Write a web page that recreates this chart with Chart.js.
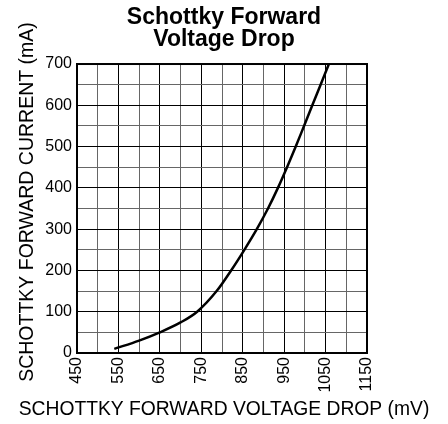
<!DOCTYPE html>
<html>
<head>
<meta charset="utf-8">
<script src="https://cdn.jsdelivr.net/npm/chart.js@4/dist/chart.umd.min.js"></script>
<style>
  html, body { margin: 0; padding: 0; background: #fff; }
  #wrap { width: 448px; height: 424px; }
</style>
</head>
<body>
<div id="wrap"><canvas id="c" width="448" height="424"></canvas></div>
<script>
const titleLines = ['Schottky Forward', 'Voltage Drop'];
const xAxisTitle = 'SCHOTTKY FORWARD VOLTAGE DROP (mV)';
const yAxisTitle = 'SCHOTTKY FORWARD CURRENT (mA)';
const xTickLabels = [450, 550, 650, 750, 850, 950, 1050, 1150];
const yTickLabels = [0, 100, 200, 300, 400, 500, 600, 700];
const voltage = [540, 600, 650, 700, 740, 787, 822, 854, 884, 911, 935, 957, 978, 998, 1018, 1038, 1058];
const current = [10, 30, 50, 74, 100, 150, 200, 250, 300, 350, 400, 450, 500, 550, 600, 650, 700];

const FONT = "'Liberation Sans', Arial, Helvetica, sans-serif";
const points = voltage.map((v, i) => ({ x: v, y: current[i] }));

const frame = {
  id: 'frame',
  afterDraw(chart) {
    const a = chart.chartArea, ctx = chart.ctx;
    ctx.save();
    ctx.strokeStyle = '#000';
    ctx.lineWidth = 2;
    ctx.strokeRect(a.left, a.top, a.right - a.left, a.bottom - a.top);
    ctx.restore();
  }
};

new Chart(document.getElementById('c'), {
  type: 'line',
  data: {
    datasets: [{
      data: points,
      borderColor: '#000',
      borderWidth: 2.5,
      pointRadius: 0,
      fill: false,
      cubicInterpolationMode: 'monotone'
    }]
  },
  options: {
    responsive: false,
    devicePixelRatio: 1,
    animation: false,
    layout: { padding: { top: -20, left: 0, right: 0, bottom: 0 } },
    plugins: {
      legend: { display: false },
      tooltip: { enabled: false },
      title: {
        display: true,
        text: titleLines,
        color: '#000',
        font: { family: FONT, size: 23, weight: 'bold', lineHeight: 0.97 },
        padding: { top: 26.5, bottom: 12.9 }
      }
    },
    scales: {
      x: {
        type: 'linear',
        min: 450, max: 1150,
        weight: 0,
        afterFit(s) { s.height = 45; },
        ticks: {
          stepSize: 50,
          autoSkip: false,
          minRotation: 90, maxRotation: 90,
          padding: 4,
          color: '#000',
          font: { family: FONT, size: 16 },
          callback: (v) => xTickLabels.includes(v) ? String(v) : ''
        },
        grid: {
          drawTicks: false,
          lineWidth: 1,
          color: (c) => (c.tick && xTickLabels.includes(c.tick.value)) ? '#000' : '#666'
        },
        border: { color: '#000', width: 2 }
      },
      xTitle: {
        type: 'linear',
        position: 'bottom',
        fullSize: true,
        weight: 10,
        afterFit(s) { s.height = 26; },
        ticks: { display: false },
        grid: { display: false, drawTicks: false },
        border: { display: false },
        title: {
          display: true, text: xAxisTitle, color: '#000',
          font: { family: FONT, size: 19.3 },
          padding: { top: 0, bottom: 3 }
        }
      },
      y: {
        min: 0, max: 700,
        weight: 0,
        afterFit(s) { s.width = 37; },
        ticks: {
          stepSize: 50,
          autoSkip: false,
          padding: 5,
          color: '#000',
          font: { family: FONT, size: 16 },
          callback: (v) => yTickLabels.includes(v) ? String(v) : ''
        },
        grid: {
          drawTicks: false,
          lineWidth: 1,
          color: (c) => (c.tick && yTickLabels.includes(c.tick.value)) ? '#000' : '#666'
        },
        border: { color: '#000', width: 2 }
      },
      yTitle: {
        type: 'linear',
        position: 'left',
        fullSize: true,
        weight: 10,
        afterFit(s) { s.width = 40; },
        ticks: { display: false },
        grid: { display: false, drawTicks: false },
        border: { display: false },
        title: {
          display: true, text: yAxisTitle, color: '#000',
          font: { family: FONT, size: 19.5 },
          padding: { top: 16, bottom: 0 }
        }
      },
      yPad: {
        position: 'right',
        display: true,
        afterFit(s) { s.width = 81; },
        ticks: { display: false },
        grid: { display: false, drawTicks: false },
        border: { display: false }
      }
    }
  },
  plugins: [frame]
});
</script>
</body>
</html>
